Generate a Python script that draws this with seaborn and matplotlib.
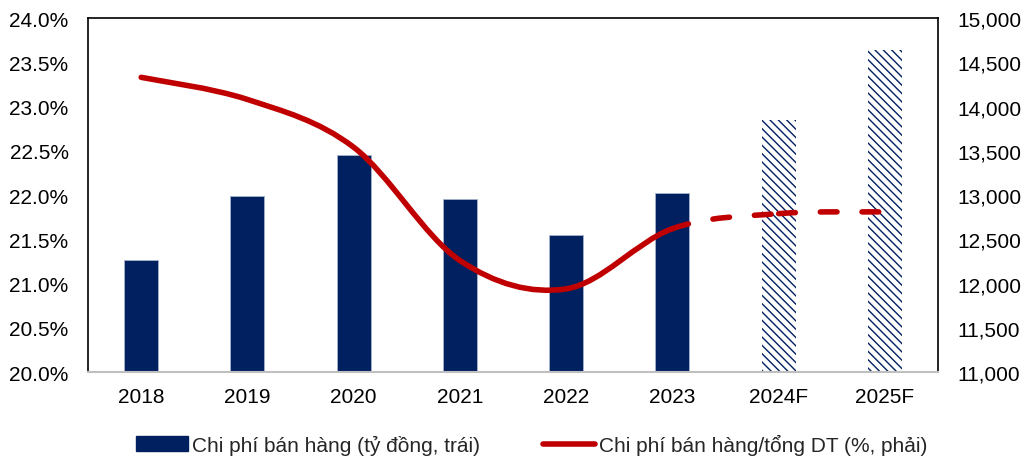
import matplotlib
matplotlib.use("Agg")
import matplotlib.pyplot as plt
import seaborn as sns
from matplotlib.path import Path
from matplotlib.patches import PathPatch, Patch
from matplotlib.lines import Line2D
from matplotlib.ticker import FuncFormatter
import pandas as pd

sns.set_style("white")
plt.rcParams['font.family'] = ['Liberation Sans', 'DejaVu Sans']
plt.rcParams['hatch.linewidth'] = 1.0

years = ['2018', '2019', '2020', '2021', '2022', '2023', '2024F', '2025F']
sales_cost = [12265, 12990, 13450, 12955, 12550, 13020, 13850, 14640]   # ty dong
cost_ratio = [23.33, 23.08, 22.54, 21.26, 20.94, 21.62, 21.79, 21.81]    # %
n_actual = 6

navy = '#002060'
red = '#C00000'
fs = 15
lw = 4.0

df = pd.DataFrame({'Year': years, 'Cost': sales_cost, 'Ratio': cost_ratio})

fig = plt.figure(figsize=(10.32, 4.64), dpi=100)
ax = fig.add_axes([0.0853, 0.196, 0.8237, 0.763])

sns.barplot(data=df, x='Year', y='Cost', color=navy, saturation=1, width=0.32,
            ax=ax, linewidth=0.6, edgecolor='#a6b4cc')
for i, p in enumerate(ax.patches):
    if i >= n_actual:
        p.set_facecolor('white')
        p.set_edgecolor(navy)
        p.set_linewidth(0)
        p.set_hatch('\\\\\\\\')

ax2 = ax.twinx()

ax.set_ylim(11000, 15000)
ax.set_xlim(-0.5, len(years) - 0.5)
ax.set_yticks(range(11000, 15001, 500))
ax.yaxis.set_major_formatter(FuncFormatter(lambda v, _: f'{v:,.0f}'))
ax.set_xlabel('')
ax.set_ylabel('')
ax.tick_params(axis='y', length=0, pad=14, labelsize=fs, colors='black',
               left=False, labelleft=False, right=True, labelright=True)
ax.tick_params(axis='x', length=0, pad=11, labelsize=fs, colors='black')
for s in ['left', 'top', 'right']:
    ax.spines[s].set_visible(True)
    ax.spines[s].set_color('black')
    ax.spines[s].set_linewidth(1.2)
ax.spines['bottom'].set_color('#bfbfbf')
ax.spines['bottom'].set_linewidth(1.5)

ax2.set_ylim(20.0, 24.0)
ax2.set_yticks([20 + 0.5 * k for k in range(9)])
ax2.yaxis.set_major_formatter(FuncFormatter(lambda v, _: f'{v:.1f}%'))
ax2.tick_params(axis='y', length=0, pad=14, labelsize=fs, colors='black',
                left=True, labelleft=True, right=False, labelright=False)
for s in ax2.spines.values():
    s.set_visible(False)
ax2.grid(False)
ax.grid(False)

# smoothed line (Catmull-Rom -> Bezier, as Excel's smoothed line)
pts = [(float(i), v) for i, v in enumerate(cost_ratio)]


def seg(i):
    p0 = pts[max(i - 1, 0)]
    p1 = pts[i]
    p2 = pts[i + 1]
    p3 = pts[min(i + 2, len(pts) - 1)]
    c1 = (p1[0] + (p2[0] - p0[0]) / 6, p1[1] + (p2[1] - p0[1]) / 6)
    c2 = (p2[0] - (p3[0] - p1[0]) / 6, p2[1] - (p3[1] - p1[1]) / 6)
    return [c1, c2, p2]


verts = [pts[0]]
codes = [Path.MOVETO]
for i in range(n_actual - 1):
    verts += seg(i)
    codes += [Path.CURVE4] * 3
ax2.add_patch(PathPatch(Path(verts, codes), fill=False, edgecolor=red, lw=lw,
                        capstyle='round', joinstyle='round'))

# forecast part, dash pattern restarts at each point as in Excel
for i in range(n_actual - 1, len(pts) - 1):
    v = [pts[i]] + seg(i)
    c = [Path.MOVETO] + [Path.CURVE4] * 3
    ax2.add_patch(PathPatch(Path(v, c), fill=False, edgecolor=red, lw=lw,
                            linestyle=(0, (3.0, 4.5)), capstyle='round'))

handles = [Patch(facecolor=navy, edgecolor=navy),
           Line2D([0], [0], color=red, lw=lw)]
labels = ['Chi phí bán hàng (tỷ đồng, trái)', 'Chi phí bán hàng/tổng DT (%, phải)']
fig.legend(handles, labels, loc='center', bbox_to_anchor=(0.515, 0.04), ncol=2,
           frameon=False, fontsize=fs, handlelength=2.5, columnspacing=3.0,
           handletextpad=0.2)

fig.savefig('out.png', dpi=100)
